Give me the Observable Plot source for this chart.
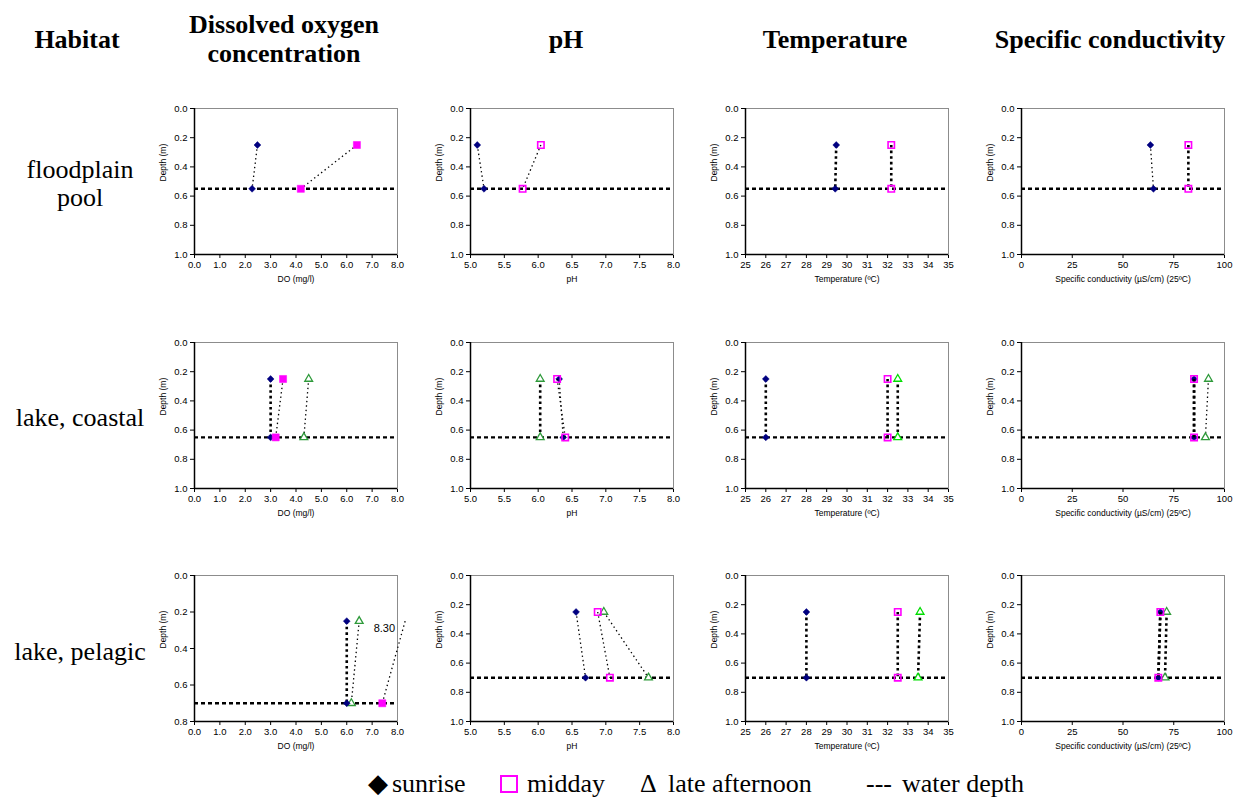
<!DOCTYPE html>
<html><head><meta charset="utf-8">
<script src="https://cdn.jsdelivr.net/npm/d3@7"></script>
<script src="https://cdn.jsdelivr.net/npm/@observablehq/plot@0.6"></script>
<style>
body{margin:0;background:#fff;}
#root{position:relative;width:1241px;height:798px;overflow:hidden;font-family:"Liberation Serif","Times New Roman",serif;color:#000;}
.hdr{position:absolute;transform:translate(-50%,-50%);font-weight:bold;font-size:26px;line-height:29px;text-align:center;white-space:nowrap;}
.rowlab{position:absolute;transform:translate(-50%,-50%);font-size:26px;line-height:28px;text-align:center;white-space:nowrap;}
.panel{position:absolute;width:280px;height:200px;}
.leg{position:absolute;top:784px;transform:translateY(-50%);font-size:26px;line-height:30px;white-space:nowrap;}
.legsq{position:absolute;top:775px;width:14px;height:14px;border:2px solid #ff00ff;}
</style></head>
<body><div id="root"></div>
<script>
// ---- data ----
const habitats = ["floodplain pool", "lake, coastal", "lake, pelagic"];
const variables = ["Dissolved oxygen concentration", "pH", "Temperature", "Specific conductivity"];
const xAxisLabels = ["DO (mg/l)", "pH", "Temperature (\u00baC)", "Specific conductivity (\u00b5S/cm) (25\u00baC)"];
const xDomains = [[0, 8], [5, 8], [25, 35], [0, 100]];
const xTickValues = [
  [0, 1, 2, 3, 4, 5, 6, 7, 8],
  [5, 5.5, 6, 6.5, 7, 7.5, 8],
  [25, 26, 27, 28, 29, 30, 31, 32, 33, 34, 35],
  [0, 25, 50, 75, 100]
];
const xTickFormats = [".1f", ".1f", "d", "d"];
const depthMax = [[1, 1, 1, 1], [1, 1, 1, 1], [0.8, 1, 1, 1]];
const depthTicks = [0, 0.2, 0.4, 0.6, 0.8, 1.0];
const surfaceDepth = [0.25, 0.25, 0.25];
const bottomDepth = [0.55, 0.65, 0.70];
const waterDepth = [0.55, 0.65, 0.70];
// [surface, bottom] values per habitat (row) and variable (column)
const sunrise = [
  [[2.48, 2.27], [5.10, 5.20], [29.47, 29.42], [63.5, 65.0]],
  [[3.00, 3.00], [6.31, 6.37], [26.0, 26.0], [85.0, 85.0]],
  [[6.00, 6.00], [6.56, 6.70], [28.0, 28.0], [68.4, 67.4]]
];
const midday = [
  [[6.40, 4.19], [6.04, 5.77], [32.18, 32.18], [82.2, 82.2]],
  [[3.49, 3.20], [6.28, 6.40], [32.0, 32.0], [85.0, 85.0]],
  [[8.30, 7.40], [6.88, 7.06], [32.5, 32.5], [68.4, 67.4]]
];
const lateAfternoon = [
  [null, null, null, null],
  [[4.50, 4.31], [6.03, 6.03], [32.5, 32.5], [92.1, 90.6]],
  [[6.49, 6.18], [6.97, 7.63], [33.6, 33.5], [71.5, 70.7]]
];
const offScaleLabels = [{habitat: 2, variable: 0, series: "midday", depth: 0.25, value: 8.30}];

// ---- layout / style ----
const panelLeft = [144, 420, 695, 971];
const panelTop = [96, 330, 563];
const headerX = [77, 284, 566, 835, 1110];
const rowY = [184, 418, 652];
const middayFilled = [true, false, false, false];
const lateColor = ["#2e9a3a", "#2e9a3a", "#00dd00", "#2e9a3a"];

const root = document.getElementById("root");
["Habitat", ...variables].forEach((h, i) => {
  const d = document.createElement("div");
  d.className = "hdr";
  d.style.left = headerX[i] + "px";
  d.style.top = "38.5px";
  if (h === "Dissolved oxygen concentration") d.innerHTML = "Dissolved oxygen<br>concentration";
  else d.textContent = h;
  root.appendChild(d);
});
habitats.forEach((h, i) => {
  const d = document.createElement("div");
  d.className = "rowlab";
  d.style.left = "80px";
  d.style.top = rowY[i] + "px";
  d.innerHTML = h === "floodplain pool" ? "floodplain<br>pool" : h;
  root.appendChild(d);
});

function seriesMarks(vals, r, c, sym) {
  if (!vals) return [];
  const pts = [{x: vals[0], y: surfaceDepth[r]}, {x: vals[1], y: bottomDepth[r]}];
  const [lo, hi] = xDomains[c];
  const span = hi - lo;
  const vertical = Math.abs(vals[0] - vals[1]) / span < 0.015;
  return [
    Plot.line(pts, {x: "x", y: "y", stroke: "#000", strokeWidth: vertical ? 2.6 : 1.3,
      strokeLinecap: "butt", strokeDasharray: vertical ? "2.6,3" : "1.4,3"}),
    Plot.dot(pts.filter(p => p.x >= lo && p.x <= hi), {x: "x", y: "y", ...sym})
  ];
}

habitats.forEach((h, r) => {
  variables.forEach((v, c) => {
    const yMax = depthMax[r][c];
    const marks = [
      Plot.frame({stroke: "#8c8c8c", strokeWidth: 1}),
      Plot.ruleY([waterDepth[r]], {stroke: "#000", strokeWidth: 2.4, strokeDasharray: "4,3"}),
      ...seriesMarks(lateAfternoon[r][c], r, c, {symbol: "triangle", r: 2.9, fill: "white", stroke: lateColor[c], strokeWidth: 1.3}),
      ...seriesMarks(sunrise[r][c], r, c, {symbol: "diamond2", r: 3.1, fill: "#000080", stroke: "#000080", strokeWidth: 0.5}),
      ...seriesMarks(midday[r][c], r, c, middayFilled[c]
        ? {symbol: "square", r: 4, fill: "#ff00ff", stroke: "#ff00ff", strokeWidth: 0.5}
        : {symbol: "square", r: 3.6, fill: "none", stroke: "#ff00ff", strokeWidth: 1.6}),
      Plot.text(offScaleLabels.filter(d => d.habitat === r && d.variable === c), {
        x: "value", y: "depth", text: d => d.value.toFixed(2), dx: -10, dy: 7,
        textAnchor: "end", fontSize: 11
      }),
      Plot.ruleX([xDomains[c][0]], {stroke: "#000", strokeWidth: 1.5}),
      Plot.ruleY([yMax], {stroke: "#000", strokeWidth: 1.5}),
      Plot.text(["Depth (m)"], {frameAnchor: "left", dx: -31, rotate: -90, fontSize: 8.5}),
      Plot.text([xAxisLabels[c]], {frameAnchor: "bottom", dy: 27, fontSize: 8.5})
    ];
    const svg = Plot.plot({
      width: 280, height: 200,
      marginLeft: 50, marginRight: 27, marginTop: 12, marginBottom: 42,
      style: {fontFamily: "'Liberation Sans', Arial, sans-serif", fontSize: "9.5px", background: "transparent", overflow: "visible"},
      x: {domain: xDomains[c], ticks: xTickValues[c], tickFormat: d3.format(xTickFormats[c]), label: null, tickSize: 4, tickPadding: 3},
      y: {domain: [0, yMax], reverse: true, ticks: depthTicks.filter(t => t <= yMax + 1e-9), tickFormat: d3.format(".1f"), label: null, tickSize: 4, tickPadding: 3},
      marks
    });
    const div = document.createElement("div");
    div.className = "panel";
    div.style.left = panelLeft[c] + "px";
    div.style.top = panelTop[r] + "px";
    div.appendChild(svg);
    root.appendChild(div);
  });
});

// ---- legend ----
const legendItems = [
  {text: "\u25C6", left: 368},
  {text: "sunrise", left: 392},
  {text: "midday", left: 527},
  {text: "\u0394", left: 640},
  {text: "late afternoon", left: 668},
  {text: "---", left: 866},
  {text: "water depth", left: 902}
];
legendItems.forEach(it => {
  const d = document.createElement("div");
  d.className = "leg";
  d.style.left = it.left + "px";
  d.textContent = it.text;
  root.appendChild(d);
});
const sq = document.createElement("div");
sq.className = "legsq";
sq.style.left = "500px";
root.appendChild(sq);
</script>
</body></html>
